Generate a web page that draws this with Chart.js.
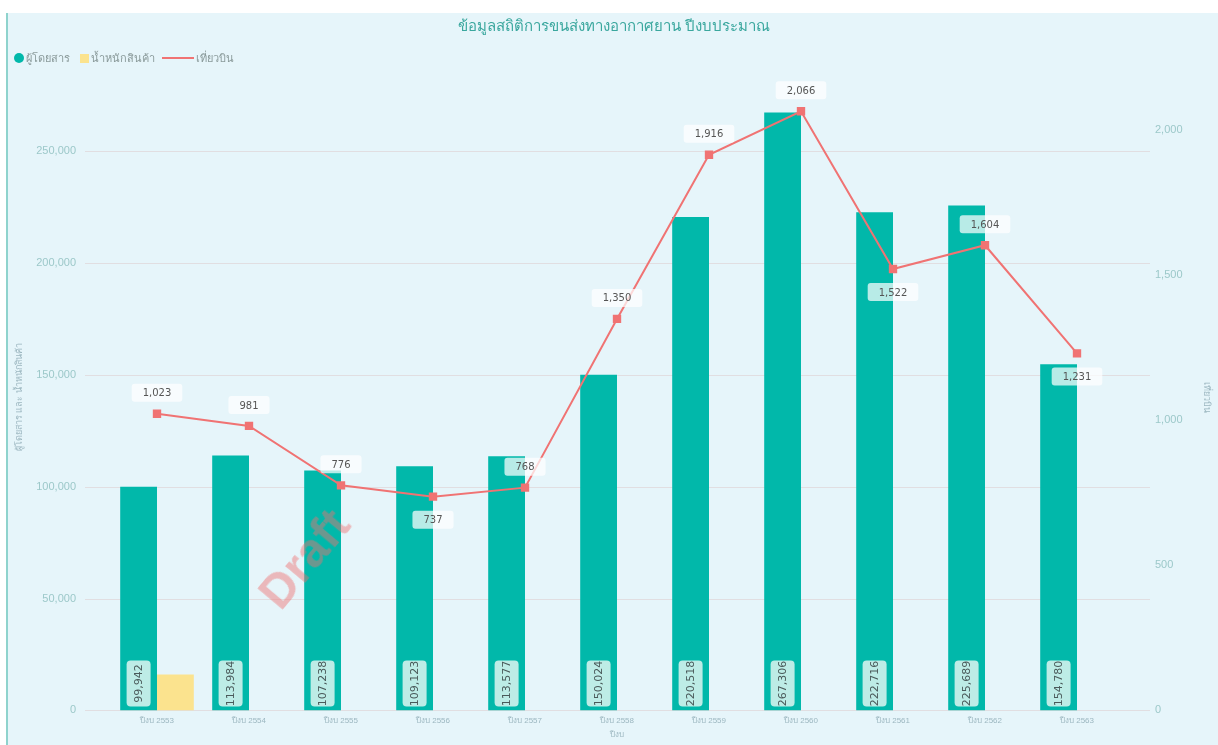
<!DOCTYPE html>
<html>
<head>
<meta charset="utf-8">
<script src="https://cdn.jsdelivr.net/npm/chart.js@4.4.0/dist/chart.umd.min.js"></script>
<style>
  body { margin: 0; background: #fff; font-family: "Noto Sans", "DejaVu Sans", sans-serif; }
  #panel { position: absolute; left: 6px; top: 13px; width: 1212px; height: 732px; background: #e6f5fa; border-left: 2px solid #8fd3cd; overflow: hidden; }
  #title { position: absolute; left: 0; width: 1212px; top: 1px; text-align: center; color: #3aa79e; font-size: 15px; }
  #legend { position: absolute; left: 6px; top: 36px; font-size: 11px; color: #8a9a9a; white-space: nowrap; }
  #legend span { display: inline-block; vertical-align: middle; }
  .dot { width: 10px; height: 10px; border-radius: 50%; background: #01b8aa; margin-right: 2px; }
  .sq { width: 9px; height: 9px; background: #fbe38e; margin: 0 2px 0 7px; }
  .ln { width: 32px; height: 2px; background: #f07373; margin: 0 2px 0 4px; }
  #wrap { position: absolute; left: 0; top: 0; width: 1210px; height: 739px; }
  #draft { position: absolute; left: 240px; top: 518px; font: bold 48px "Liberation Sans", sans-serif; color: rgba(240, 110, 110, 0.45); transform: rotate(-50deg); }
</style>
</head>
<body>
<div id="panel">
  <div id="wrap"><canvas id="airChart" width="1210" height="739"></canvas></div>
  <div id="title">ข้อมูลสถิติการขนส่งทางอากาศยาน ปีงบประมาณ</div>
  <div id="legend">
    <span class="dot"></span><span>ผู้โดยสาร</span>
    <span class="sq"></span><span>น้ำหนักสินค้า</span>
    <span class="ln"></span><span>เที่ยวบิน</span>
  </div>
  <div id="draft">Draft</div>
</div>
<script>
// fiscal years
var years = ['ปีงบ 2553', 'ปีงบ 2554', 'ปีงบ 2555', 'ปีงบ 2556', 'ปีงบ 2557', 'ปีงบ 2558',
             'ปีงบ 2559', 'ปีงบ 2560', 'ปีงบ 2561', 'ปีงบ 2562', 'ปีงบ 2563'];
var passengers = [99942, 113984, 107238, 109123, 113577, 150024, 220518, 267306, 222716, 225689, 154780];
var cargo = [16000, null, null, null, null, null, null, null, null, null, null];
var flights = [1023, 981, 776, 737, 768, 1350, 1916, 2066, 1522, 1604, 1231];
// axis ticks
var leftTicks = [0, 50000, 100000, 150000, 200000, 250000];
var rightTicks = [0, 500, 1000, 1500, 2000];
// where each flight label sits relative to its point
var flightLabelPos = ['up', 'up', 'up', 'down', 'up', 'up', 'up', 'up', 'down', 'up', 'down'];

var tickColor = '#9cc8c9';
var fmt = function(v) { return Number(v).toLocaleString('en-US'); };

function roundBox(ctx, x, y, w, h, r, fill) {
    ctx.beginPath();
    ctx.moveTo(x + r, y);
    ctx.arcTo(x + w, y, x + w, y + h, r);
    ctx.arcTo(x + w, y + h, x, y + h, r);
    ctx.arcTo(x, y + h, x, y, r);
    ctx.arcTo(x, y, x + w, y, r);
    ctx.closePath();
    ctx.fillStyle = fill;
    ctx.fill();
}

// long faint grid lines like the original
var gridPlugin = {
    id: 'wideGrid',
    beforeDatasetsDraw: function(chart) {
        var ctx = chart.ctx, y = chart.scales.y;
        ctx.save();
        ctx.strokeStyle = 'rgba(220, 200, 200, 0.5)';
        ctx.lineWidth = 1;
        y.ticks.forEach(function(t) {
            var py = Math.round(y.getPixelForValue(t.value)) + 0.5;
            ctx.beginPath();
            ctx.moveTo(77, py);
            ctx.lineTo(1142, py);
            ctx.stroke();
        });
        ctx.restore();
    }
};

var labelPlugin = {
    id: 'valueLabels',
    afterDatasetsDraw: function(chart) {
        var ctx = chart.ctx;
        ctx.save();
        // passenger labels, rotated inside the bar base
        chart.getDatasetMeta(0).data.forEach(function(bar, i) {
            var h = 46, w = 24;
            ctx.save();
            ctx.translate(bar.x, bar.base - 4 - h / 2);
            ctx.rotate(-Math.PI / 2);
            roundBox(ctx, -h / 2, -w / 2, h, w, 4, 'rgba(205, 240, 236, 0.92)');
            ctx.fillStyle = '#4a5a5a';
            ctx.font = '11px "DejaVu Sans", sans-serif';
            ctx.textAlign = 'center';
            ctx.textBaseline = 'middle';
            ctx.fillText(fmt(passengers[i]), 0, 1);
            ctx.restore();
        });
        // flight labels
        chart.getDatasetMeta(2).data.forEach(function(pt, i) {
            var txt = fmt(flights[i]);
            ctx.font = '10px "DejaVu Sans", sans-serif';
            var w = ctx.measureText(txt).width + 22, h = 18;
            var cy = flightLabelPos[i] === 'up' ? pt.y - 21 : pt.y + 23;
            var cx = pt.x;
            if (cx + w / 2 > chart.chartArea.right - 2) cx = chart.chartArea.right - 2 - w / 2;
            roundBox(ctx, cx - w / 2, cy - h / 2, w, h, 3, 'rgba(255, 255, 255, 0.72)');
            ctx.fillStyle = '#555';
            ctx.textAlign = 'center';
            ctx.textBaseline = 'middle';
            ctx.fillText(txt, cx, cy + 1);
        });
        ctx.restore();
    }
};

var ctx = document.getElementById('airChart').getContext('2d');
var chart = new Chart(ctx, {
    type: 'bar',
    data: {
        labels: years,
        datasets: [{
            label: 'ผู้โดยสาร',
            data: passengers,
            backgroundColor: '#01b8aa',
            yAxisID: 'y',
            order: 2
        }, {
            label: 'น้ำหนักสินค้า',
            data: cargo,
            backgroundColor: '#fbe38e',
            yAxisID: 'y',
            order: 2
        }, {
            type: 'line',
            label: 'เที่ยวบิน',
            data: flights,
            borderColor: '#f07373',
            backgroundColor: '#f07373',
            borderWidth: 2,
            pointStyle: 'rect',
            pointRadius: 4.5,
            yAxisID: 'y1',
            order: 1
        }]
    },
    options: {
        responsive: false,
        animation: false,
        categoryPercentage: 0.8,
        barPercentage: 1.0,
        layout: { padding: { top: 71, left: 0, right: 0, bottom: 0 } },
        plugins: {
            legend: { display: false },
            title: { display: false },
            tooltip: { enabled: false }
        },
        scales: {
            x: {
                grid: { display: false, drawTicks: false },
                border: { display: false },
                ticks: { color: '#9cb7c0', font: { size: 8 }, padding: 6, maxRotation: 0 },
                title: { display: true, text: 'ปีงบ', color: '#9cb7c0', font: { size: 8 }, padding: 2 },
                afterFit: function(s) { s.height = 31; }
            },
            y: {
                position: 'left',
                min: 0,
                max: 280000,
                grid: { display: false, drawTicks: false },
                border: { display: false },
                ticks: { autoSkip: false, color: tickColor, font: { size: 11 }, padding: 35,
                         callback: function(v) { return fmt(v); } },
                title: { display: true, text: 'ผู้โดยสาร และ น้ำหนักสินค้า', color: '#9cb7c0', font: { size: 9 }, padding: 6 },
                afterBuildTicks: function(s) { s.ticks = leftTicks.map(function(v) { return { value: v }; }); },
                afterFit: function(s) { s.width = 103; }
            },
            y1: {
                position: 'right',
                min: 0,
                max: 2160,
                grid: { display: false, drawTicks: false },
                border: { display: false },
                ticks: { autoSkip: false, color: tickColor, font: { size: 11 }, padding: 32,
                         callback: function(v) { return fmt(v); } },
                title: { display: true, text: 'เที่ยวบิน', color: '#9cb7c0', font: { size: 9 }, padding: 6 },
                afterBuildTicks: function(s) { s.ticks = rightTicks.map(function(v) { return { value: v }; }); },
                afterFit: function(s) { s.width = 95; }
            }
        }
    },
    plugins: [gridPlugin, labelPlugin]
});
</script>
</body>
</html>
